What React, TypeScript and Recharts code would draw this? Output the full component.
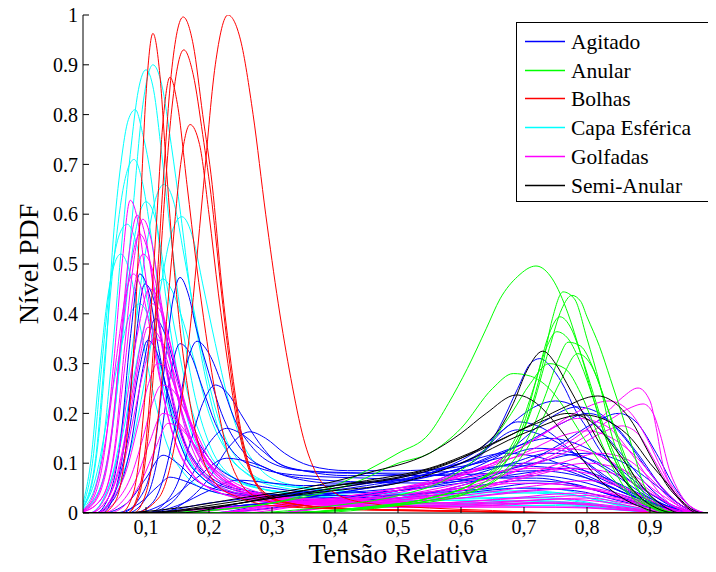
import { LineChart, Line, XAxis, YAxis } from 'recharts'

// Each curve is a flat list of (x, y) pairs: [x0, y0, x1, y1, ...]
type Curve = number[]

const agitado: Curve[] = [
  [0,0, 0.02,0, 0.04,0.03, 0.06,0.15, 0.075,0.35, 0.09,0.48, 0.105,0.44, 0.12,0.33, 0.14,0.2, 0.16,0.12, 0.19,0.07, 0.24,0.04, 0.3,0.03, 0.4,0.025, 0.5,0.03, 0.6,0.04, 0.7,0.05, 0.78,0.045, 0.85,0.025, 0.92,0.005, 0.96,0, 1,0],
  [0,0, 0.03,0, 0.05,0.04, 0.068,0.16, 0.083,0.34, 0.098,0.46, 0.112,0.43, 0.127,0.33, 0.145,0.21, 0.165,0.13, 0.19,0.08, 0.23,0.05, 0.3,0.035, 0.4,0.03, 0.5,0.035, 0.6,0.05, 0.7,0.065, 0.77,0.06, 0.84,0.035, 0.91,0.008, 0.96,0, 1,0],
  [0,0, 0.06,0, 0.09,0.03, 0.11,0.1, 0.13,0.3, 0.143,0.43, 0.154,0.473, 0.167,0.44, 0.18,0.37, 0.2,0.28, 0.22,0.2, 0.25,0.13, 0.3,0.085, 0.35,0.07, 0.45,0.062, 0.55,0.06, 0.65,0.07, 0.72,0.075, 0.8,0.06, 0.87,0.03, 0.93,0.008, 0.97,0, 1,0],
  [0,0, 0.07,0, 0.1,0.03, 0.12,0.12, 0.135,0.25, 0.154,0.34, 0.17,0.32, 0.19,0.25, 0.21,0.18, 0.24,0.12, 0.28,0.09, 0.35,0.075, 0.45,0.07, 0.55,0.065, 0.65,0.07, 0.72,0.07, 0.8,0.05, 0.88,0.02, 0.94,0, 1,0],
  [0,0, 0.08,0, 0.11,0.02, 0.13,0.08, 0.15,0.2, 0.165,0.3, 0.181,0.345, 0.2,0.32, 0.22,0.26, 0.24,0.19, 0.27,0.13, 0.3,0.1, 0.35,0.085, 0.45,0.08, 0.55,0.075, 0.65,0.08, 0.72,0.085, 0.8,0.07, 0.87,0.035, 0.93,0.01, 0.97,0, 1,0],
  [0,0, 0.1,0, 0.13,0.02, 0.15,0.06, 0.17,0.14, 0.19,0.22, 0.21,0.257, 0.23,0.24, 0.25,0.2, 0.28,0.14, 0.31,0.1, 0.35,0.085, 0.42,0.08, 0.5,0.08, 0.6,0.085, 0.68,0.095, 0.75,0.09, 0.82,0.06, 0.88,0.03, 0.94,0.008, 0.97,0, 1,0],
  [0,0, 0.1,0, 0.14,0.02, 0.17,0.07, 0.2,0.14, 0.228,0.17, 0.25,0.16, 0.28,0.13, 0.31,0.1, 0.35,0.085, 0.42,0.075, 0.5,0.075, 0.6,0.08, 0.7,0.1, 0.76,0.1, 0.82,0.07, 0.88,0.035, 0.94,0.008, 0.97,0, 1,0],
  [0,0, 0.12,0, 0.16,0.02, 0.2,0.07, 0.23,0.13, 0.265,0.163, 0.29,0.15, 0.32,0.12, 0.36,0.095, 0.42,0.085, 0.5,0.085, 0.58,0.09, 0.66,0.11, 0.72,0.13, 0.78,0.12, 0.84,0.08, 0.9,0.03, 0.95,0.005, 0.98,0, 1,0],
  [0,0, 0.02,0, 0.05,0.04, 0.07,0.14, 0.088,0.28, 0.103,0.347, 0.118,0.32, 0.135,0.24, 0.155,0.16, 0.18,0.1, 0.21,0.065, 0.26,0.045, 0.35,0.035, 0.45,0.035, 0.55,0.04, 0.65,0.05, 0.72,0.06, 0.8,0.05, 0.87,0.025, 0.93,0.005, 0.97,0, 1,0],
  [0,0, 0.03,0, 0.07,0.02, 0.1,0.07, 0.127,0.116, 0.15,0.1, 0.18,0.065, 0.22,0.045, 0.3,0.035, 0.4,0.04, 0.5,0.05, 0.6,0.07, 0.68,0.1, 0.74,0.12, 0.8,0.11, 0.86,0.07, 0.92,0.025, 0.96,0.005, 1,0],
  [0,0, 0.05,0, 0.09,0.02, 0.12,0.055, 0.138,0.072, 0.16,0.065, 0.2,0.045, 0.25,0.035, 0.35,0.04, 0.45,0.055, 0.55,0.08, 0.63,0.12, 0.69,0.183, 0.73,0.17, 0.78,0.12, 0.84,0.06, 0.9,0.02, 0.95,0.003, 1,0],
  [0,0, 0.1,0, 0.15,0.015, 0.2,0.045, 0.245,0.066, 0.3,0.06, 0.35,0.055, 0.45,0.06, 0.55,0.08, 0.62,0.11, 0.69,0.167, 0.74,0.15, 0.79,0.11, 0.84,0.065, 0.89,0.03, 0.94,0.006, 0.97,0, 1,0],
  [0,0, 0.08,0, 0.13,0.02, 0.18,0.07, 0.228,0.11, 0.27,0.1, 0.32,0.075, 0.4,0.06, 0.5,0.065, 0.6,0.09, 0.7,0.14, 0.76,0.18, 0.8,0.2, 0.84,0.18, 0.88,0.12, 0.92,0.05, 0.95,0.015, 0.98,0, 1,0],
  [0,0, 0.02,0, 0.05,0.03, 0.075,0.13, 0.095,0.29, 0.115,0.39, 0.13,0.36, 0.15,0.27, 0.17,0.18, 0.2,0.11, 0.24,0.07, 0.3,0.05, 0.4,0.04, 0.5,0.045, 0.6,0.06, 0.7,0.08, 0.77,0.09, 0.83,0.07, 0.89,0.035, 0.94,0.008, 0.97,0, 1,0],
  [0,0, 0.1,0, 0.2,0.01, 0.3,0.02, 0.4,0.03, 0.5,0.045, 0.55,0.06, 0.6,0.09, 0.635,0.12, 0.66,0.17, 0.69,0.25, 0.71,0.3, 0.725,0.31, 0.745,0.29, 0.765,0.25, 0.78,0.21, 0.8,0.17, 0.82,0.127, 0.85,0.085, 0.873,0.06, 0.91,0.025, 0.95,0.005, 0.98,0, 1,0],
  [0,0, 0.2,0, 0.3,0.01, 0.4,0.025, 0.5,0.045, 0.6,0.08, 0.68,0.13, 0.74,0.19, 0.784,0.213, 0.82,0.2, 0.86,0.15, 0.9,0.08, 0.93,0.035, 0.96,0.008, 0.98,0, 1,0],
  [0,0, 0.3,0, 0.4,0.015, 0.5,0.03, 0.6,0.055, 0.7,0.1, 0.76,0.14, 0.81,0.18, 0.85,0.2, 0.88,0.18, 0.91,0.12, 0.94,0.05, 0.965,0.012, 0.985,0, 1,0],
  [0,0, 0.2,0, 0.3,0.02, 0.4,0.04, 0.5,0.06, 0.6,0.09, 0.68,0.13, 0.74,0.15, 0.8,0.13, 0.85,0.09, 0.9,0.04, 0.94,0.01, 0.97,0, 1,0],
  [0,0, 0.1,0, 0.2,0.01, 0.35,0.025, 0.5,0.045, 0.6,0.065, 0.7,0.095, 0.8,0.12, 0.86,0.1, 0.91,0.055, 0.95,0.015, 0.98,0, 1,0],
  [0,0, 0.15,0, 0.25,0.015, 0.35,0.03, 0.45,0.05, 0.55,0.08, 0.62,0.12, 0.68,0.18, 0.72,0.215, 0.75,0.225, 0.78,0.215, 0.82,0.17, 0.86,0.11, 0.9,0.05, 0.94,0.012, 0.97,0, 1,0],
  [0,0, 0.1,0, 0.2,0.02, 0.3,0.035, 0.4,0.05, 0.5,0.07, 0.6,0.1, 0.67,0.12, 0.73,0.11, 0.8,0.075, 0.87,0.035, 0.93,0.008, 0.97,0, 1,0],
]

const anular: Curve[] = [
  [0,0, 0.1,0, 0.2,0.005, 0.3,0.02, 0.35,0.035, 0.39,0.05, 0.45,0.085, 0.5,0.12, 0.55,0.16, 0.58,0.22, 0.61,0.29, 0.64,0.37, 0.662,0.43, 0.69,0.475, 0.719,0.496, 0.745,0.47, 0.77,0.4, 0.79,0.32, 0.81,0.23, 0.83,0.15, 0.86,0.07, 0.89,0.025, 0.92,0.005, 0.95,0, 1,0],
  [0,0, 0.1,0, 0.2,0.005, 0.3,0.02, 0.38,0.04, 0.43,0.06, 0.5,0.1, 0.55,0.12, 0.6,0.17, 0.65,0.25, 0.683,0.28, 0.71,0.275, 0.74,0.25, 0.77,0.2, 0.8,0.14, 0.84,0.07, 0.88,0.025, 0.92,0.005, 0.95,0, 1,0],
  [0,0, 0.3,0, 0.45,0.01, 0.55,0.025, 0.62,0.05, 0.67,0.1, 0.7,0.17, 0.73,0.3, 0.745,0.39, 0.762,0.444, 0.78,0.43, 0.8,0.35, 0.82,0.26, 0.84,0.153, 0.86,0.09, 0.873,0.06, 0.9,0.02, 0.93,0.003, 0.95,0, 1,0],
  [0,0, 0.3,0, 0.45,0.01, 0.55,0.03, 0.62,0.06, 0.68,0.12, 0.71,0.2, 0.74,0.33, 0.76,0.41, 0.776,0.437, 0.79,0.425, 0.8,0.394, 0.82,0.334, 0.837,0.27, 0.86,0.18, 0.873,0.127, 0.889,0.06, 0.91,0.02, 0.935,0, 1,0],
  [0,0, 0.3,0, 0.45,0.012, 0.55,0.03, 0.62,0.06, 0.67,0.11, 0.7,0.18, 0.72,0.27, 0.74,0.36, 0.757,0.394, 0.775,0.37, 0.79,0.32, 0.81,0.24, 0.83,0.16, 0.85,0.1, 0.87,0.05, 0.9,0.015, 0.93,0, 1,0],
  [0,0, 0.3,0, 0.45,0.012, 0.55,0.03, 0.62,0.06, 0.66,0.1, 0.69,0.16, 0.715,0.25, 0.735,0.33, 0.752,0.364, 0.77,0.35, 0.79,0.3, 0.81,0.23, 0.83,0.15, 0.85,0.09, 0.87,0.045, 0.9,0.012, 0.93,0, 1,0],
  [0,0, 0.3,0, 0.45,0.01, 0.55,0.025, 0.63,0.05, 0.68,0.1, 0.71,0.16, 0.735,0.24, 0.755,0.31, 0.77,0.343, 0.79,0.335, 0.81,0.29, 0.83,0.22, 0.85,0.15, 0.87,0.085, 0.89,0.04, 0.915,0.01, 0.94,0, 1,0],
  [0,0, 0.25,0, 0.4,0.015, 0.5,0.035, 0.58,0.07, 0.64,0.13, 0.68,0.2, 0.71,0.26, 0.74,0.3, 0.765,0.29, 0.79,0.24, 0.81,0.18, 0.83,0.12, 0.855,0.06, 0.88,0.02, 0.91,0, 1,0],
  [0,0, 0.35,0, 0.5,0.015, 0.6,0.035, 0.66,0.07, 0.7,0.12, 0.73,0.19, 0.76,0.27, 0.785,0.32, 0.805,0.3, 0.825,0.24, 0.845,0.16, 0.865,0.09, 0.885,0.04, 0.91,0.01, 0.935,0, 1,0],
]

const bolhas: Curve[] = [
  [0,0, 0.08,0, 0.12,0.03, 0.15,0.17, 0.17,0.37, 0.19,0.64, 0.21,0.9, 0.23,1.0, 0.25,0.95, 0.27,0.8, 0.29,0.6, 0.31,0.42, 0.33,0.27, 0.35,0.15, 0.37,0.08, 0.4,0.04, 0.45,0.02, 0.55,0.01, 0.65,0.005, 0.75,0, 1,0],
  [0,0, 0.03,0, 0.05,0.02, 0.065,0.1, 0.08,0.32, 0.09,0.58, 0.1,0.84, 0.111,0.963, 0.122,0.88, 0.132,0.7, 0.142,0.53, 0.155,0.36, 0.17,0.22, 0.19,0.11, 0.21,0.06, 0.25,0.03, 0.3,0.015, 0.4,0.008, 0.6,0.003, 0.8,0, 1,0],
  [0,0, 0.06,0, 0.08,0.04, 0.1,0.26, 0.115,0.55, 0.128,0.8, 0.138,0.875, 0.15,0.82, 0.165,0.66, 0.18,0.5, 0.195,0.36, 0.21,0.24, 0.23,0.12, 0.25,0.06, 0.28,0.03, 0.35,0.012, 0.5,0.005, 0.7,0.002, 0.8,0, 1,0],
  [0,0, 0.07,0, 0.09,0.05, 0.11,0.3, 0.125,0.62, 0.14,0.88, 0.159,0.996, 0.175,0.94, 0.19,0.8, 0.205,0.66, 0.22,0.46, 0.235,0.3, 0.25,0.17, 0.265,0.09, 0.285,0.045, 0.32,0.022, 0.4,0.01, 0.6,0.004, 0.75,0, 1,0],
  [0,0, 0.07,0, 0.09,0.04, 0.11,0.25, 0.125,0.55, 0.14,0.8, 0.16,0.93, 0.175,0.88, 0.19,0.76, 0.205,0.62, 0.22,0.44, 0.235,0.28, 0.25,0.16, 0.27,0.07, 0.29,0.035, 0.33,0.018, 0.45,0.008, 0.65,0.003, 0.8,0, 1,0],
  [0,0, 0.08,0, 0.1,0.04, 0.12,0.2, 0.14,0.5, 0.155,0.7, 0.17,0.78, 0.185,0.74, 0.2,0.6, 0.215,0.44, 0.23,0.3, 0.245,0.18, 0.26,0.1, 0.28,0.05, 0.32,0.022, 0.4,0.01, 0.6,0.004, 0.75,0, 1,0],
]

const capaEsferica: Curve[] = [
  [0,0.01, 0.02,0.1, 0.035,0.3, 0.048,0.55, 0.06,0.7, 0.072,0.79, 0.083,0.81, 0.095,0.76, 0.106,0.69, 0.12,0.55, 0.135,0.4, 0.15,0.28, 0.17,0.17, 0.2,0.1, 0.25,0.06, 0.3,0.045, 0.4,0.035, 0.5,0.03, 0.6,0.028, 0.7,0.03, 0.75,0.03, 0.8,0.022, 0.85,0.01, 0.9,0.003, 0.95,0, 1,0],
  [0,0.005, 0.03,0.06, 0.05,0.2, 0.065,0.4, 0.08,0.62, 0.095,0.82, 0.111,0.9, 0.125,0.86, 0.14,0.74, 0.155,0.6, 0.17,0.45, 0.19,0.3, 0.21,0.19, 0.23,0.12, 0.26,0.08, 0.3,0.06, 0.4,0.045, 0.5,0.04, 0.6,0.04, 0.7,0.042, 0.76,0.04, 0.82,0.025, 0.88,0.008, 0.94,0, 1,0],
  [0,0.008, 0.025,0.08, 0.045,0.3, 0.06,0.52, 0.075,0.72, 0.088,0.85, 0.1,0.89, 0.112,0.85, 0.125,0.72, 0.14,0.55, 0.155,0.4, 0.175,0.25, 0.2,0.14, 0.23,0.08, 0.28,0.05, 0.35,0.035, 0.5,0.025, 0.65,0.025, 0.75,0.022, 0.85,0.01, 0.92,0, 1,0],
  [0,0.012, 0.02,0.11, 0.035,0.32, 0.05,0.52, 0.065,0.66, 0.081,0.71, 0.095,0.66, 0.11,0.54, 0.125,0.4, 0.145,0.26, 0.17,0.15, 0.2,0.09, 0.25,0.05, 0.35,0.03, 0.5,0.02, 0.65,0.02, 0.75,0.018, 0.85,0.008, 0.92,0, 1,0],
  [0,0, 0.01,0, 0.04,0.05, 0.06,0.16, 0.08,0.35, 0.1,0.53, 0.115,0.63, 0.129,0.66, 0.145,0.62, 0.16,0.52, 0.18,0.38, 0.2,0.26, 0.22,0.17, 0.25,0.1, 0.3,0.06, 0.4,0.045, 0.5,0.04, 0.6,0.045, 0.7,0.05, 0.75,0.048, 0.82,0.03, 0.88,0.01, 0.94,0, 1,0],
  [0,0.005, 0.03,0.06, 0.05,0.2, 0.065,0.38, 0.08,0.54, 0.1,0.625, 0.115,0.59, 0.13,0.48, 0.15,0.34, 0.17,0.22, 0.2,0.12, 0.24,0.07, 0.3,0.045, 0.45,0.03, 0.6,0.03, 0.72,0.032, 0.8,0.02, 0.88,0.006, 0.93,0, 1,0],
  [0,0, 0.02,0, 0.05,0.04, 0.08,0.15, 0.1,0.28, 0.12,0.43, 0.14,0.56, 0.157,0.595, 0.175,0.55, 0.19,0.46, 0.21,0.34, 0.23,0.23, 0.25,0.15, 0.28,0.09, 0.32,0.06, 0.4,0.045, 0.5,0.038, 0.6,0.04, 0.7,0.045, 0.76,0.04, 0.84,0.02, 0.9,0.005, 0.95,0, 1,0],
  [0,0, 0.01,0, 0.04,0.05, 0.06,0.14, 0.08,0.27, 0.1,0.39, 0.115,0.45, 0.127,0.47, 0.14,0.45, 0.16,0.38, 0.18,0.29, 0.2,0.2, 0.23,0.12, 0.27,0.07, 0.32,0.05, 0.45,0.035, 0.6,0.035, 0.7,0.04, 0.78,0.035, 0.85,0.015, 0.92,0, 1,0],
  [0,0.015, 0.015,0.1, 0.03,0.3, 0.045,0.48, 0.058,0.56, 0.07,0.58, 0.085,0.54, 0.1,0.44, 0.12,0.3, 0.14,0.19, 0.17,0.1, 0.21,0.055, 0.3,0.03, 0.45,0.02, 0.6,0.018, 0.72,0.02, 0.8,0.014, 0.88,0.004, 0.93,0, 1,0],
  [0,0.01, 0.02,0.07, 0.04,0.2, 0.06,0.33, 0.075,0.4, 0.09,0.42, 0.105,0.39, 0.12,0.31, 0.14,0.21, 0.16,0.13, 0.19,0.07, 0.24,0.04, 0.35,0.025, 0.5,0.015, 0.65,0.015, 0.75,0.015, 0.85,0.006, 0.92,0, 1,0],
  [0,0.02, 0.012,0.1, 0.025,0.27, 0.04,0.44, 0.05,0.5, 0.06,0.52, 0.075,0.48, 0.09,0.38, 0.11,0.25, 0.13,0.15, 0.16,0.08, 0.2,0.045, 0.3,0.025, 0.45,0.018, 0.6,0.02, 0.72,0.025, 0.8,0.018, 0.88,0.005, 0.93,0, 1,0],
]

const golfadas: Curve[] = [
  [0,0.005, 0.02,0.04, 0.035,0.13, 0.05,0.32, 0.062,0.5, 0.075,0.628, 0.088,0.58, 0.1,0.47, 0.115,0.33, 0.13,0.22, 0.15,0.13, 0.175,0.075, 0.21,0.045, 0.27,0.025, 0.4,0.015, 0.55,0.012, 0.7,0.012, 0.8,0.01, 0.88,0.004, 0.94,0, 1,0],
  [0,0.003, 0.025,0.035, 0.045,0.15, 0.06,0.35, 0.073,0.52, 0.086,0.598, 0.1,0.55, 0.115,0.42, 0.13,0.3, 0.15,0.18, 0.17,0.11, 0.2,0.065, 0.25,0.035, 0.35,0.02, 0.5,0.012, 0.65,0.015, 0.75,0.02, 0.82,0.015, 0.9,0.004, 0.95,0, 1,0],
  [0,0.002, 0.03,0.03, 0.05,0.13, 0.065,0.32, 0.08,0.5, 0.095,0.59, 0.108,0.55, 0.122,0.44, 0.14,0.3, 0.16,0.18, 0.18,0.11, 0.21,0.06, 0.26,0.035, 0.35,0.02, 0.5,0.014, 0.65,0.018, 0.75,0.022, 0.83,0.016, 0.9,0.005, 0.95,0, 1,0],
  [0,0.004, 0.025,0.04, 0.045,0.16, 0.06,0.34, 0.075,0.49, 0.09,0.56, 0.104,0.52, 0.118,0.41, 0.135,0.28, 0.155,0.17, 0.18,0.095, 0.21,0.055, 0.26,0.03, 0.35,0.018, 0.5,0.012, 0.62,0.014, 0.72,0.02, 0.8,0.016, 0.88,0.005, 0.94,0, 1,0],
  [0,0.002, 0.03,0.03, 0.05,0.12, 0.065,0.28, 0.08,0.44, 0.095,0.52, 0.11,0.49, 0.125,0.4, 0.14,0.3, 0.16,0.19, 0.185,0.11, 0.22,0.06, 0.27,0.035, 0.35,0.022, 0.5,0.015, 0.65,0.02, 0.76,0.028, 0.84,0.02, 0.91,0.005, 0.96,0, 1,0],
  [0,0, 0.01,0, 0.035,0.03, 0.055,0.11, 0.07,0.23, 0.088,0.37, 0.105,0.45, 0.12,0.43, 0.135,0.36, 0.155,0.25, 0.175,0.16, 0.2,0.095, 0.24,0.05, 0.3,0.03, 0.4,0.02, 0.55,0.018, 0.7,0.025, 0.8,0.03, 0.86,0.02, 0.92,0.005, 0.96,0, 1,0],
  [0,0, 0.01,0, 0.04,0.03, 0.06,0.1, 0.075,0.2, 0.09,0.31, 0.103,0.373, 0.118,0.36, 0.135,0.3, 0.155,0.21, 0.175,0.14, 0.2,0.085, 0.24,0.05, 0.3,0.03, 0.4,0.02, 0.55,0.02, 0.68,0.03, 0.78,0.04, 0.85,0.03, 0.91,0.01, 0.96,0, 1,0],
  [0,0, 0.02,0, 0.045,0.03, 0.065,0.1, 0.08,0.19, 0.097,0.29, 0.112,0.35, 0.127,0.34, 0.145,0.28, 0.165,0.2, 0.19,0.12, 0.22,0.07, 0.26,0.045, 0.32,0.03, 0.45,0.022, 0.6,0.03, 0.72,0.045, 0.8,0.05, 0.86,0.035, 0.92,0.01, 0.96,0, 1,0],
  [0,0, 0.02,0, 0.05,0.02, 0.075,0.07, 0.095,0.15, 0.11,0.22, 0.125,0.257, 0.14,0.25, 0.16,0.21, 0.18,0.16, 0.2,0.11, 0.23,0.07, 0.27,0.045, 0.33,0.03, 0.45,0.025, 0.6,0.035, 0.72,0.055, 0.8,0.065, 0.86,0.05, 0.92,0.015, 0.96,0, 1,0],
  [0,0, 0.03,0, 0.06,0.02, 0.085,0.07, 0.105,0.14, 0.127,0.2, 0.145,0.19, 0.165,0.16, 0.19,0.11, 0.22,0.07, 0.26,0.045, 0.32,0.03, 0.45,0.025, 0.6,0.04, 0.7,0.07, 0.78,0.09, 0.84,0.08, 0.9,0.04, 0.95,0.008, 0.98,0, 1,0],
  [0,0, 0.04,0, 0.07,0.02, 0.095,0.07, 0.115,0.13, 0.135,0.18, 0.155,0.17, 0.175,0.14, 0.2,0.1, 0.23,0.065, 0.27,0.04, 0.35,0.028, 0.5,0.03, 0.62,0.05, 0.72,0.08, 0.8,0.1, 0.86,0.085, 0.92,0.035, 0.96,0.005, 0.98,0, 1,0],
  [0,0, 0.02,0, 0.045,0.025, 0.07,0.09, 0.088,0.18, 0.104,0.26, 0.118,0.3, 0.133,0.29, 0.15,0.24, 0.17,0.18, 0.19,0.12, 0.22,0.075, 0.26,0.045, 0.33,0.03, 0.45,0.022, 0.6,0.03, 0.7,0.045, 0.78,0.05, 0.85,0.035, 0.91,0.01, 0.96,0, 1,0],
  [0,0.006, 0.02,0.05, 0.04,0.18, 0.055,0.33, 0.068,0.44, 0.08,0.48, 0.093,0.45, 0.108,0.36, 0.125,0.25, 0.145,0.15, 0.17,0.085, 0.2,0.05, 0.26,0.028, 0.35,0.018, 0.5,0.012, 0.65,0.012, 0.78,0.012, 0.86,0.006, 0.93,0, 1,0],
  [0,0, 0.01,0, 0.04,0.03, 0.06,0.11, 0.078,0.24, 0.095,0.36, 0.11,0.42, 0.125,0.4, 0.14,0.33, 0.16,0.23, 0.18,0.15, 0.205,0.09, 0.24,0.055, 0.3,0.032, 0.4,0.022, 0.55,0.02, 0.7,0.03, 0.8,0.035, 0.87,0.022, 0.93,0.005, 0.97,0, 1,0],
  [0,0, 0.1,0, 0.2,0.01, 0.3,0.015, 0.4,0.022, 0.5,0.035, 0.6,0.06, 0.7,0.1, 0.78,0.15, 0.83,0.2, 0.857,0.233, 0.881,0.251, 0.9,0.225, 0.91,0.17, 0.92,0.1, 0.94,0.045, 0.958,0.02, 0.975,0.005, 0.99,0, 1,0],
  [0,0, 0.1,0, 0.2,0.008, 0.3,0.015, 0.4,0.02, 0.5,0.03, 0.6,0.05, 0.7,0.09, 0.78,0.14, 0.84,0.19, 0.87,0.212, 0.889,0.219, 0.905,0.2, 0.918,0.15, 0.93,0.09, 0.945,0.045, 0.96,0.018, 0.978,0.004, 0.99,0, 1,0],
  [0,0, 0.15,0, 0.25,0.01, 0.35,0.02, 0.45,0.035, 0.55,0.06, 0.65,0.1, 0.72,0.15, 0.78,0.2, 0.835,0.225, 0.87,0.2, 0.895,0.15, 0.92,0.085, 0.945,0.03, 0.965,0.008, 0.985,0, 1,0],
  [0,0, 0.2,0, 0.3,0.012, 0.4,0.025, 0.5,0.045, 0.6,0.075, 0.7,0.12, 0.76,0.155, 0.8,0.165, 0.84,0.15, 0.88,0.11, 0.91,0.065, 0.94,0.025, 0.965,0.005, 0.985,0, 1,0],
  [0,0, 0.2,0, 0.3,0.015, 0.4,0.03, 0.5,0.05, 0.6,0.08, 0.68,0.11, 0.76,0.13, 0.81,0.12, 0.86,0.085, 0.9,0.045, 0.94,0.012, 0.97,0, 1,0],
  [0,0, 0.2,0, 0.3,0.015, 0.4,0.03, 0.5,0.05, 0.6,0.07, 0.72,0.09, 0.8,0.08, 0.86,0.05, 0.91,0.02, 0.95,0.004, 0.98,0, 1,0],
  [0,0, 0.3,0, 0.4,0.015, 0.5,0.03, 0.6,0.055, 0.7,0.09, 0.78,0.13, 0.83,0.165, 0.855,0.175, 0.88,0.16, 0.905,0.11, 0.93,0.055, 0.955,0.015, 0.975,0, 1,0],
  [0,0, 0.25,0, 0.35,0.015, 0.45,0.03, 0.55,0.055, 0.65,0.1, 0.72,0.15, 0.785,0.19, 0.83,0.175, 0.87,0.12, 0.9,0.065, 0.93,0.02, 0.96,0.003, 0.98,0, 1,0],
  [0,0, 0.3,0, 0.4,0.012, 0.5,0.025, 0.6,0.045, 0.7,0.075, 0.77,0.105, 0.82,0.12, 0.86,0.11, 0.9,0.07, 0.935,0.025, 0.96,0.005, 0.98,0, 1,0],
  [0,0, 0.2,0, 0.35,0.015, 0.5,0.035, 0.6,0.05, 0.7,0.06, 0.78,0.055, 0.85,0.035, 0.91,0.012, 0.95,0, 1,0],
]

const semiAnular: Curve[] = [
  [0,0, 0.05,0, 0.15,0.005, 0.25,0.02, 0.35,0.04, 0.45,0.06, 0.5,0.07, 0.56,0.09, 0.6,0.11, 0.64,0.14, 0.662,0.17, 0.683,0.22, 0.705,0.287, 0.73,0.325, 0.75,0.3, 0.768,0.26, 0.794,0.2, 0.82,0.14, 0.847,0.086, 0.884,0.032, 0.91,0.01, 0.94,0, 1,0],
  [0,0, 0.05,0, 0.15,0.01, 0.25,0.03, 0.35,0.05, 0.45,0.08, 0.55,0.12, 0.6,0.16, 0.64,0.2, 0.688,0.237, 0.72,0.22, 0.75,0.18, 0.78,0.13, 0.81,0.08, 0.85,0.035, 0.89,0.01, 0.92,0, 1,0],
  [0,0, 0.1,0, 0.2,0.015, 0.3,0.035, 0.4,0.055, 0.5,0.072, 0.6,0.11, 0.7,0.17, 0.76,0.21, 0.817,0.235, 0.85,0.215, 0.873,0.18, 0.89,0.14, 0.91,0.093, 0.93,0.05, 0.943,0.032, 0.96,0.01, 0.975,0, 1,0],
  [0,0, 0.1,0, 0.2,0.01, 0.3,0.03, 0.4,0.045, 0.5,0.06, 0.6,0.1, 0.7,0.16, 0.794,0.197, 0.84,0.18, 0.87,0.15, 0.9,0.1, 0.927,0.06, 0.95,0.025, 0.97,0.005, 0.985,0, 1,0],
  [0,0, 0.15,0, 0.25,0.02, 0.35,0.045, 0.45,0.065, 0.55,0.09, 0.65,0.14, 0.72,0.18, 0.77,0.2, 0.81,0.18, 0.85,0.12, 0.89,0.05, 0.92,0.015, 0.95,0, 1,0],
]

const LEGEND_NAMES = ['Agitado', 'Anular', 'Bolhas', 'Capa Esférica', 'Golfadas', 'Semi-Anular']
const LEGEND_COLORS = ['#0000ff', '#00ff00', '#ff0000', '#00ffff', '#ff00ff', '#000000']
const GROUPS = [agitado, anular, bolhas, capaEsferica, golfadas, semiAnular]
// later groups are painted on top
const DRAW_ORDER = [3, 0, 4, 2, 1, 5]

const X_TICKS = [0.1, 0.2, 0.3, 0.4, 0.5, 0.6, 0.7, 0.8, 0.9, 1]
const Y_TICKS = [0, 0.1, 0.2, 0.3, 0.4, 0.5, 0.6, 0.7, 0.8, 0.9, 1]

const FONT = "'Liberation Serif', Tinos, 'Times New Roman', Times, 'DejaVu Serif', 'Noto Serif', serif"

const toPoints = (c: Curve) => {
  const pts: { x: number; y: number }[] = []
  for (let i = 0; i < c.length; i += 2) pts.push({ x: c[i], y: c[i + 1] })
  return pts
}

const fmtX = (v: number) => (v === 1 ? '1' : v.toFixed(1).replace('.', ','))
const fmtY = (v: number) => (v === 0 || v === 1 ? String(v) : v.toFixed(1))

function LegendBox() {
  const w = 194
  const h = 180
  return (
    <svg
      width={w}
      height={h}
      style={{ position: 'absolute', left: 508, top: 14 }}
      fontFamily={FONT}
    >
      <rect x={0.5} y={0.5} width={w - 1} height={h - 1} fill="#fff" stroke="#000" />
      {LEGEND_NAMES.map((name, i) => {
        const y = Math.round(19 + i * 28.7) + 0.5
        return (
          <g key={name}>
            <line x1={9} x2={49} y1={y} y2={y} stroke={LEGEND_COLORS[i]} strokeWidth={1.3} />
            <text x={55} y={y} dominantBaseline="central" fontSize={21.5} fill="#000">
              {name}
            </text>
          </g>
        )
      })}
    </svg>
  )
}

export default function App() {
  const tickStyle = { fill: '#000', fontSize: 20, fontFamily: FONT }
  return (
    <div style={{ position: 'relative', width: 708, height: 560, background: '#fff', fontFamily: FONT }}>
      <style>{'.recharts-surface { overflow: visible; }'}</style>
      <LineChart width={708} height={560} margin={{ top: 7, right: 3, left: 0, bottom: 0 }}>
        <XAxis
          dataKey="x"
          type="number"
          domain={[0, 1]}
          ticks={X_TICKS}
          interval={0}
          tickFormatter={fmtX}
          tickSize={-6}
          tickMargin={13}
          height={55}
          axisLine={{ stroke: '#000' }}
          tickLine={{ stroke: '#000' }}
          tick={tickStyle}
          allowDataOverflow
          label={{
            value: 'Tensão Relativa',
            position: 'insideBottom',
            offset: 5,
            style: { fontSize: 28, fontFamily: FONT, fill: '#000' },
          }}
        />
        <XAxis
          xAxisId="top"
          orientation="top"
          type="number"
          domain={[0, 1]}
          ticks={X_TICKS}
          tick={false}
          tickSize={-6}
          height={0}
          axisLine={{ stroke: '#000' }}
          tickLine={{ stroke: '#000' }}
        />
        <YAxis
          type="number"
          domain={[0, 1]}
          ticks={Y_TICKS}
          interval={0}
          tickFormatter={fmtY}
          tickSize={-6}
          tickMargin={11}
          width={75}
          axisLine={{ stroke: '#000' }}
          tickLine={{ stroke: '#000' }}
          tick={tickStyle}
          allowDataOverflow
          label={{
            value: 'Nível PDF',
            angle: -90,
            position: 'insideLeft',
            offset: 20,
            style: { textAnchor: 'middle', fontSize: 28, fontFamily: FONT, fill: '#000' },
          }}
        />
        <YAxis
          yAxisId="right"
          orientation="right"
          type="number"
          domain={[0, 1]}
          ticks={Y_TICKS}
          tick={false}
          tickSize={-6}
          width={0}
          axisLine={{ stroke: '#000' }}
          tickLine={{ stroke: '#000' }}
        />
        {DRAW_ORDER.flatMap((g) =>
          GROUPS[g].map((c, i) => (
            <Line
              key={`${g}-${i}`}
              data={toPoints(c)}
              dataKey="y"
              type="monotone"
              stroke={LEGEND_COLORS[g]}
              strokeWidth={1}
              dot={false}
              activeDot={false}
              legendType="none"
              isAnimationActive={false}
            />
          ))
        )}
      </LineChart>
      <LegendBox />
    </div>
  )
}
